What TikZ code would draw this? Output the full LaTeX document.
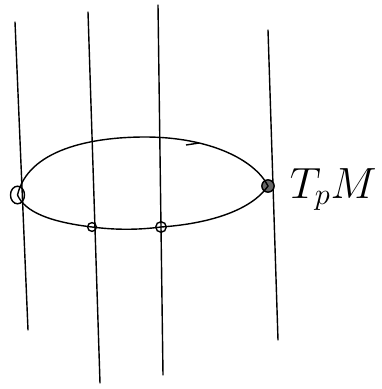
\documentclass[tikz,border=0pt]{standalone}
\usepackage{tikz}
\usetikzlibrary{positioning, shapes.geometric}

\tikzset{
  fiber/.style={thick, line cap=round},
  pt/.style={draw, circle, thick, inner sep=0pt},
}

\begin{document}
\begin{tikzpicture}[x=0.02cm, y=-0.02cm]
    \useasboundingbox (0,0) rectangle (382,389);
        % fibres
        \coordinate (A1) at (15,22);  \coordinate (B1) at (28,330);
        \coordinate (A2) at (88,12);  \coordinate (B2) at (100,383);
        \coordinate (A3) at (158,5);  \coordinate (B3) at (163,375);
        \coordinate (A4) at (268,30); \coordinate (B4) at (278,340);
        \draw[fiber] (A1) -- (B1); \draw[fiber] (A2) -- (B2);
        \draw[fiber] (A3) -- (B3); \draw[fiber] (A4) -- (B4);
        % points on the loop
        \node[pt, ellipse, minimum width=8pt, minimum height=10pt] (P1) at (17.5,195) {};
        \node[pt, minimum size=5pt] (P2) at (92,227) {};
        \node[pt, minimum size=6pt] (P3) at (161,227) {};
        \node[pt, minimum size=7pt, fill=black!60] (P4) at (268,186) {};
        % the loop
        \draw[thick] (P1.center) .. controls (28,150) and (90,137) .. (145,137)
            .. controls (210,137) and (255,160) .. (P4.center)
            .. controls (250,212) and (205,224) .. (P3.center)
            .. controls (138,230) and (115,230) .. (P2.center)
            .. controls (50,222) and (25,212) .. (P1.center);
        \draw[thick] (186,145) -- (199,143);
        \node[right=5pt of P4, yshift=-2pt, font=\fontsize{25}{30}\selectfont] (T) {$T_pM$};
    \end{tikzpicture}
\end{document}
